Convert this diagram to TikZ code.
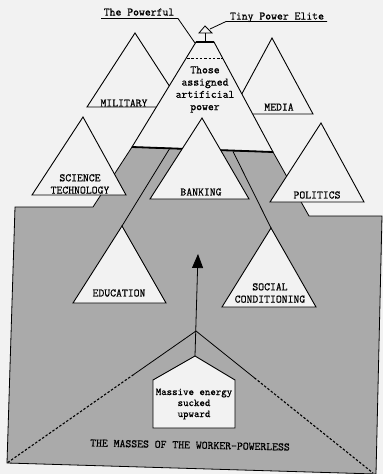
\documentclass[tikz,border=0pt]{standalone}
\usepackage{fontspec}
\setmonofont[FakeBold=0.7]{Latin Modern Mono}
\usetikzlibrary{arrows.meta,calc}
\definecolor{paper}{RGB}{242,242,242}
\definecolor{mass}{RGB}{170,170,170}
\begin{document}
\begin{tikzpicture}[x=1pt,y=-1pt,
  tri/.style={draw=black,fill=paper,line width=0.9pt,line join=miter},
  lbl/.style={font=\ttfamily\fontsize{11.4}{12.3}\selectfont,inner sep=0pt,align=center},
  small/.style={font=\ttfamily\fontsize{10.4}{11}\selectfont,inner sep=0pt,align=center},
  thin/.style={draw=black,line width=0.8pt},
  dotline/.style={draw=black,line width=1.1pt,dash pattern=on 2.4pt off 1.8pt}]
\useasboundingbox[fill=paper] (0,0) rectangle (383,474);

% background pyramids
\draw[tri] (135,33) -- (183,107) -- (87,107) -- cycle;
\draw[tri] (272,38) -- (313,114) -- (231,114) -- cycle;

% gray mass
\draw[thin,fill=mass] (132,147) -- (93,207) -- (15,207) -- (7,463) -- (376,474)
  -- (382,216) -- (309,216) -- (273,152) -- cycle;

% main pyramid top part
\draw[tri] (196,42) -- (214,42) -- (273,152) -- (132,147) -- cycle;
\draw[line width=1.8pt] (132,147) -- (273,152);
\draw[line width=0.9pt,dash pattern=on 2.5pt off 1.8pt] (187,58) -- (223,58);
\node[lbl] (assigned) at (205,89.5) {Those\\assigned\\artificial\\power};

% tiny elite
\coordinate (pyrTopL) at (195,43);
\coordinate (elite) at (205,26);
\draw[tri,line width=0.8pt] (elite) -- (212,33) -- (199,33) -- cycle;
\draw[line width=0.9pt] (205,33) -- (205,42);
\draw[line width=1.6pt] (196,42) -- (214,42);

\node[lbl,anchor=base] (powerful) at (139,15.5) {The Powerful};
\node[lbl,anchor=base] (tiny) at (277,19.5) {Tiny Power Elite};
\draw[thin] (101,18.5) -- (178,18.5) -- (pyrTopL);
\draw[thin] (327,21.5) -- (226,21.5) -- (210,29);

% channels
\draw[thin] (170,148) -- (122,226);
\draw[thin] (233,151.5) -- (271,228);

% front pyramids
\draw[tri] (83,117) -- (126,195) -- (32,195) -- cycle;
\node[lbl] (science) at (80,184) {SCIENCE\\TECHNOLOGY};
\draw[tri] (202,118) -- (249,199) -- (150,199) -- cycle;
\node[lbl] (banking) at (201,192) {BANKING};
\draw[tri] (321,123) -- (364,202) -- (270,202) -- cycle;
\node[lbl] (politics) at (317,195) {POLITICS};
\draw[tri] (122,226) -- (166,303) -- (73,303) -- cycle;
\node[lbl] (education) at (119,293) {EDUCATION};
\draw[tri] (271,228) -- (316,307) -- (222,307) -- cycle;
\node[lbl] (social) at (270,293) {SOCIAL\\CONDITIONING};

\node[lbl] (military) at (124,103) {MILITARY};
\node[lbl] (media) at (279,107) {MEDIA};

% energy flow
\coordinate (junction) at (196,331);
\coordinate (houseTop) at (195,356);
\coordinate (tip) at (198,254);
\coordinate (leftEnd) at (7,463);
\coordinate (rightEnd) at (373,473);
\draw[thin,-{Triangle[width=11pt,length=14pt]}] (houseTop) -- (tip);
\draw[thin] (junction) -- ($(junction)!0.33!(leftEnd)$);
\draw[dotline] ($(junction)!0.33!(leftEnd)$) -- (leftEnd);
\draw[thin] (junction) -- ($(junction)!0.33!(rightEnd)$);
\draw[dotline] ($(junction)!0.33!(rightEnd)$) -- (rightEnd);

\draw[tri] (houseTop) -- (235,380) -- (235,428) -- (153,428) -- (153,380) -- cycle;
\node[small] (energy) at (194,404) {Massive energy\\sucked\\upward};

\node[lbl,rotate=-1.2] (masses) at (190,445) {THE MASSES OF THE WORKER-POWERLESS};
\end{tikzpicture}
\end{document}
